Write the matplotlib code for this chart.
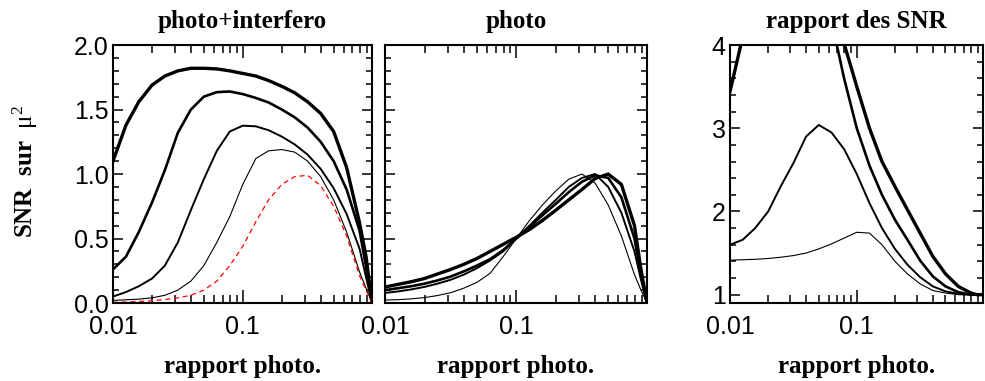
import numpy as np
import matplotlib
matplotlib.use("Agg")
import matplotlib.pyplot as plt
from matplotlib.ticker import FixedLocator, FixedFormatter, MultipleLocator, FormatStrFormatter

plt.rcParams["font.family"] = ["Liberation Sans", "DejaVu Sans"]
plt.rcParams["mathtext.fontset"] = "custom"
plt.rcParams["mathtext.rm"] = "Liberation Serif"
plt.rcParams["mathtext.it"] = "Liberation Serif"

# rapport photo. (sample positions, shared by all curves)
ratio = [0.01, 0.0126, 0.0158, 0.02, 0.0251, 0.0316, 0.0398, 0.0501, 0.0631, 0.0794,
         0.1, 0.126, 0.158, 0.2, 0.251, 0.316, 0.398, 0.501, 0.631, 0.794, 0.89, 0.99]

# photo+interfero, thickest to thinnest, then the dashed red reference
pi_a = [1.10, 1.38, 1.56, 1.69, 1.76, 1.80, 1.82, 1.82, 1.815, 1.80, 1.78, 1.76, 1.725,
        1.68, 1.63, 1.56, 1.47, 1.33, 1.05, 0.62, 0.36, 0.0]
pi_b = [0.26, 0.36, 0.55, 0.78, 1.03, 1.32, 1.50, 1.60, 1.635, 1.64, 1.62, 1.59, 1.555,
        1.50, 1.44, 1.36, 1.25, 1.10, 0.88, 0.56, 0.28, 0.0]
pi_c = [0.05, 0.085, 0.13, 0.19, 0.29, 0.47, 0.72, 0.96, 1.18, 1.33, 1.375, 1.37, 1.34,
        1.29, 1.23, 1.15, 1.04, 0.89, 0.69, 0.42, 0.20, 0.0]
pi_d = [0.02, 0.025, 0.03, 0.04, 0.06, 0.10, 0.17, 0.29, 0.47, 0.67, 0.92, 1.12, 1.18,
        1.19, 1.17, 1.10, 0.98, 0.80, 0.55, 0.24, 0.115, 0.0]
pi_ref = [0.005, 0.008, 0.012, 0.018, 0.027, 0.04, 0.06, 0.10, 0.17, 0.29, 0.44, 0.63,
          0.80, 0.92, 0.98, 0.99, 0.91, 0.75, 0.52, 0.21, 0.10, 0.0]

# photo
ph_a = [0.124, 0.145, 0.165, 0.19, 0.225, 0.26, 0.30, 0.345, 0.40, 0.455, 0.51, 0.57,
        0.64, 0.72, 0.80, 0.88, 0.965, 1.0, 0.92, 0.60, 0.26, 0.0]
ph_b = [0.10, 0.115, 0.13, 0.15, 0.175, 0.205, 0.245, 0.29, 0.34, 0.41, 0.50, 0.59,
        0.68, 0.77, 0.86, 0.94, 0.99, 0.97, 0.82, 0.50, 0.22, 0.0]
ph_c = [0.078, 0.09, 0.105, 0.125, 0.15, 0.18, 0.22, 0.27, 0.33, 0.40, 0.50, 0.60,
        0.70, 0.80, 0.90, 0.97, 1.0, 0.90, 0.70, 0.40, 0.18, 0.0]
ph_d = [0.023, 0.026, 0.032, 0.042, 0.058, 0.08, 0.115, 0.16, 0.23, 0.36, 0.50, 0.64,
        0.76, 0.87, 0.96, 1.0, 0.93, 0.76, 0.52, 0.22, 0.10, 0.0]

# rapport des SNR
rs_a = [3.44, 4.1, 5.0, 6.0, 7.0, 7.8, 8.2, 7.8, 5.0, 4.02, 3.5, 3.0, 2.6, 2.3, 2.02,
        1.74, 1.46, 1.25, 1.10, 1.02, 1.0, 1.0]
rs_b = [5.0, 5.5, 6.0, 6.6, 7.2, 7.6, 7.6, 6.8, 4.3, 3.6, 3.0, 2.55, 2.2, 1.9, 1.66,
        1.41, 1.22, 1.10, 1.03, 1.0, 1.0, 1.0]
rs_c = [1.6, 1.66, 1.80, 2.0, 2.30, 2.58, 2.90, 3.04, 2.95, 2.75, 2.45, 2.1, 1.8, 1.55,
        1.36, 1.21, 1.10, 1.04, 1.01, 1.0, 1.0, 1.0]
rs_d = [1.415, 1.42, 1.425, 1.435, 1.45, 1.47, 1.50, 1.55, 1.61, 1.68, 1.75, 1.74, 1.6,
        1.4, 1.25, 1.13, 1.05, 1.02, 1.0, 1.0, 1.0, 1.0]

widths = [2.4, 1.9, 1.4, 0.8]
serif = dict(family="Liberation Serif", weight="bold", size=18)

fig = plt.figure(figsize=(9.85, 3.81), dpi=100)
ax1 = fig.add_axes([0.1147, 0.2047, 0.263, 0.677])
ax2 = fig.add_axes([0.3909, 0.2047, 0.266, 0.677])
ax3 = fig.add_axes([0.7411, 0.2047, 0.2569, 0.677])


def style(ax, title):
    ax.set_xscale("log")
    ax.set_xlim(0.01, 0.99)
    ax.xaxis.set_major_locator(FixedLocator([0.01, 0.1]))
    ax.xaxis.set_major_formatter(FixedFormatter(["0.01", "0.1"]))
    ax.xaxis.set_minor_locator(FixedLocator([0.02, 0.03, 0.04, 0.05, 0.06, 0.07, 0.08, 0.09,
                                             0.2, 0.3, 0.4, 0.5, 0.6, 0.7, 0.8, 0.9]))
    ax.xaxis.set_minor_formatter(FixedFormatter([]))
    ax.tick_params(axis="both", which="both", direction="in", top=True, right=True,
                   width=1.1, labelsize=18)
    ax.tick_params(axis="x", which="major", length=9.5, pad=8.5)
    ax.tick_params(axis="x", which="minor", length=5.5)
    ax.tick_params(axis="y", which="major", length=7.5, pad=3)
    ax.tick_params(axis="y", which="minor", length=4)
    for sp in ax.spines.values():
        sp.set_linewidth(1.5)
    ax.set_title(title, pad=12, **serif)
    ax.set_xlabel("rapport photo.", **serif)
    ax.xaxis.set_label_coords(0.5, -0.2)


# photo+interfero
for vals, lw in zip([pi_a, pi_b, pi_c, pi_d], widths):
    ax1.plot(ratio, vals, color="black", lw=lw)
ax1.plot(ratio, pi_ref, color="red", lw=0.9, dashes=(4, 3))
style(ax1, "photo+interfero")
ax1.set_ylim(0, 2)
ax1.yaxis.set_major_locator(MultipleLocator(0.5))
ax1.yaxis.set_minor_locator(MultipleLocator(0.1))
ax1.yaxis.set_major_formatter(FormatStrFormatter("%.1f"))
ax1.set_ylabel(r"SNR  sur  $\mathrm{\mu}^{2}$", **serif)
ax1.yaxis.set_label_coords(-0.28, 0.51)

# photo
for vals, lw in zip([ph_a, ph_b, ph_c, ph_d], widths):
    ax2.plot(ratio, vals, color="black", lw=lw)
style(ax2, "photo")
ax2.set_ylim(0, 2)
ax2.yaxis.set_major_locator(MultipleLocator(0.5))
ax2.yaxis.set_minor_locator(MultipleLocator(0.1))
ax2.tick_params(axis="y", labelleft=False)

# rapport des SNR
for vals, lw in zip([rs_a, rs_b, rs_c, rs_d], widths):
    ax3.plot(ratio, vals, color="black", lw=lw)
style(ax3, "rapport des SNR")
ax3.set_ylim(0.9, 4)
ax3.yaxis.set_major_locator(FixedLocator([1, 2, 3, 4]))
ax3.yaxis.set_major_formatter(FixedFormatter(["1", "2", "3", "4"]))
ax3.yaxis.set_minor_locator(FixedLocator([1.2, 1.4, 1.6, 1.8, 2.2, 2.4, 2.6, 2.8,
                                          3.2, 3.4, 3.6, 3.8]))

fig.savefig("out.png", dpi=100)
